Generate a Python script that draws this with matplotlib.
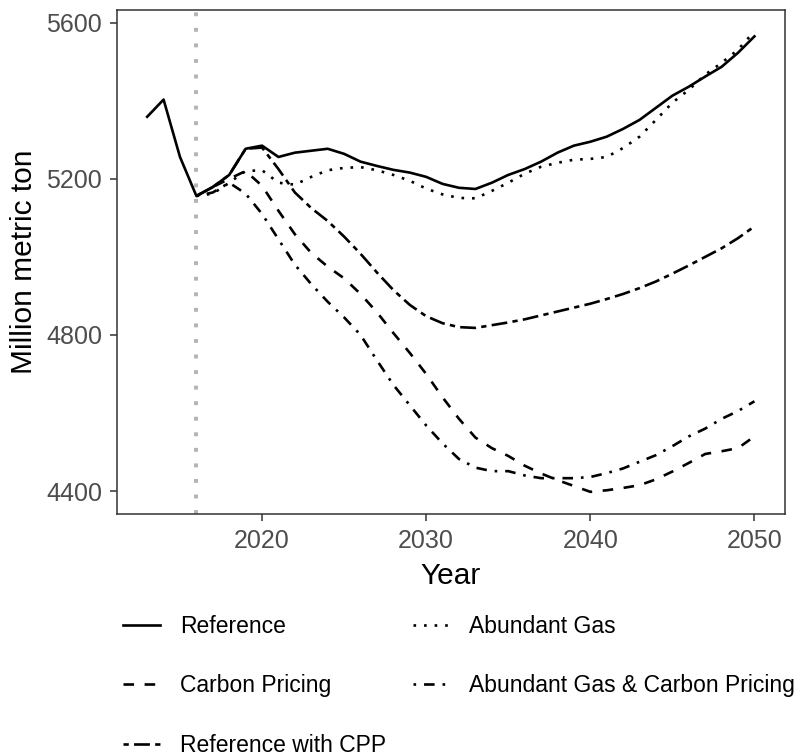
import numpy as np
import matplotlib
matplotlib.use("Agg")
import matplotlib.pyplot as plt

plt.rcParams['font.family'] = ['Liberation Sans', 'DejaVu Sans']

# Reference history + projection
ref_years = list(range(2013, 2051))
reference = [5359, 5403, 5256, 5156, 5179, 5210, 5277, 5285, 5256, 5267,
             5272, 5277, 5264, 5244, 5233, 5223, 5216, 5205, 5187, 5177,
             5174, 5190, 5210, 5225, 5244, 5267, 5285, 5295, 5308, 5328,
             5351, 5382, 5413, 5436, 5462, 5487, 5523, 5565]

# scenarios start in 2016
scen_years = list(range(2016, 2051))
abundant_gas = [5156, 5162, 5190, 5220, 5222, 5190, 5185, 5205, 5222, 5228,
                5230, 5222, 5210, 5195, 5175, 5160, 5151, 5150, 5169, 5190,
                5213, 5231, 5241, 5249, 5251, 5256, 5279, 5308, 5351, 5395,
                5428, 5467, 5497, 5531, 5578]
carbon_pricing = [5156, 5179, 5200, 5220, 5182, 5118, 5058, 5010, 4975, 4945,
                  4905, 4858, 4805, 4754, 4700, 4640, 4585, 4537, 4510, 4490,
                  4465, 4445, 4428, 4413, 4398, 4402, 4408, 4415, 4430, 4450,
                  4472, 4495, 4502, 4510, 4540]
ag_carbon_pricing = [5156, 5165, 5190, 5162, 5110, 5045, 4980, 4930, 4885, 4845,
                     4800, 4735, 4672, 4620, 4568, 4522, 4482, 4460, 4451, 4451,
                     4440, 4433, 4433, 4433, 4436, 4446, 4458, 4475, 4492, 4515,
                     4540, 4560, 4585, 4605, 4630]
ref_cpp = [5156, 5179, 5210, 5277, 5280, 5225, 5165, 5125, 5092, 5052,
           5008, 4960, 4915, 4877, 4848, 4830, 4820, 4818, 4825, 4832,
           4840, 4850, 4860, 4870, 4880, 4892, 4905, 4920, 4937, 4957,
           4978, 5000, 5022, 5048, 5078]

base_year = 2016

fig = plt.figure(figsize=(8, 7.56), dpi=100)
ax = fig.add_axes([0.146, 0.320, 0.835, 0.667])

lw = 1.9
ax.axvline(base_year, color='#B3B3B3', lw=2.8, linestyle=(0, (1, 3)),
           dash_capstyle='butt', zorder=1)

ax.plot(ref_years, reference, color='black', lw=lw, label='Reference')
ax.plot(scen_years, abundant_gas, color='black', lw=lw,
        linestyle=(0, (1, 3)), label='Abundant Gas')
ax.plot(scen_years, carbon_pricing, color='black', lw=lw,
        linestyle=(0, (4, 4)), label='Carbon Pricing')
ax.plot(scen_years, ag_carbon_pricing, color='black', lw=lw,
        linestyle=(0, (1, 3, 4, 3)), label='Abundant Gas & Carbon Pricing')
ax.plot(scen_years, ref_cpp, color='black', lw=lw,
        linestyle=(0, (2, 2, 6, 2)), label='Reference with CPP')

ax.set_xlim(2011.15, 2051.85)
ax.set_ylim(4341, 5633)
ax.set_xticks([2020, 2030, 2040, 2050])
ax.set_yticks([4400, 4800, 5200, 5600])

for s in ax.spines.values():
    s.set_color('#333333')
    s.set_linewidth(1.1)
ax.tick_params(axis='both', length=5, width=1.1, color='#333333',
               labelsize=18, labelcolor='#4D4D4D')
ax.tick_params(axis='x', pad=6)
ax.tick_params(axis='y', pad=5.5)

ax.set_xlabel('Year', fontsize=21.5, labelpad=6)
ax.set_ylabel('Million metric ton', fontsize=21.5, labelpad=6)

handles, labels = ax.get_legend_handles_labels()
order = ['Reference', 'Carbon Pricing', 'Reference with CPP',
         'Abundant Gas', 'Abundant Gas & Carbon Pricing']
hmap = dict(zip(labels, handles))
fig.legend([hmap[k] for k in order], order, loc='upper left',
           bbox_to_anchor=(0.14, 0.202), ncol=2, frameon=False,
           fontsize=16.5, handlelength=1.6, handletextpad=0.87,
           columnspacing=1.15, labelspacing=1.6, borderpad=0)

fig.savefig('out.png', dpi=100)
